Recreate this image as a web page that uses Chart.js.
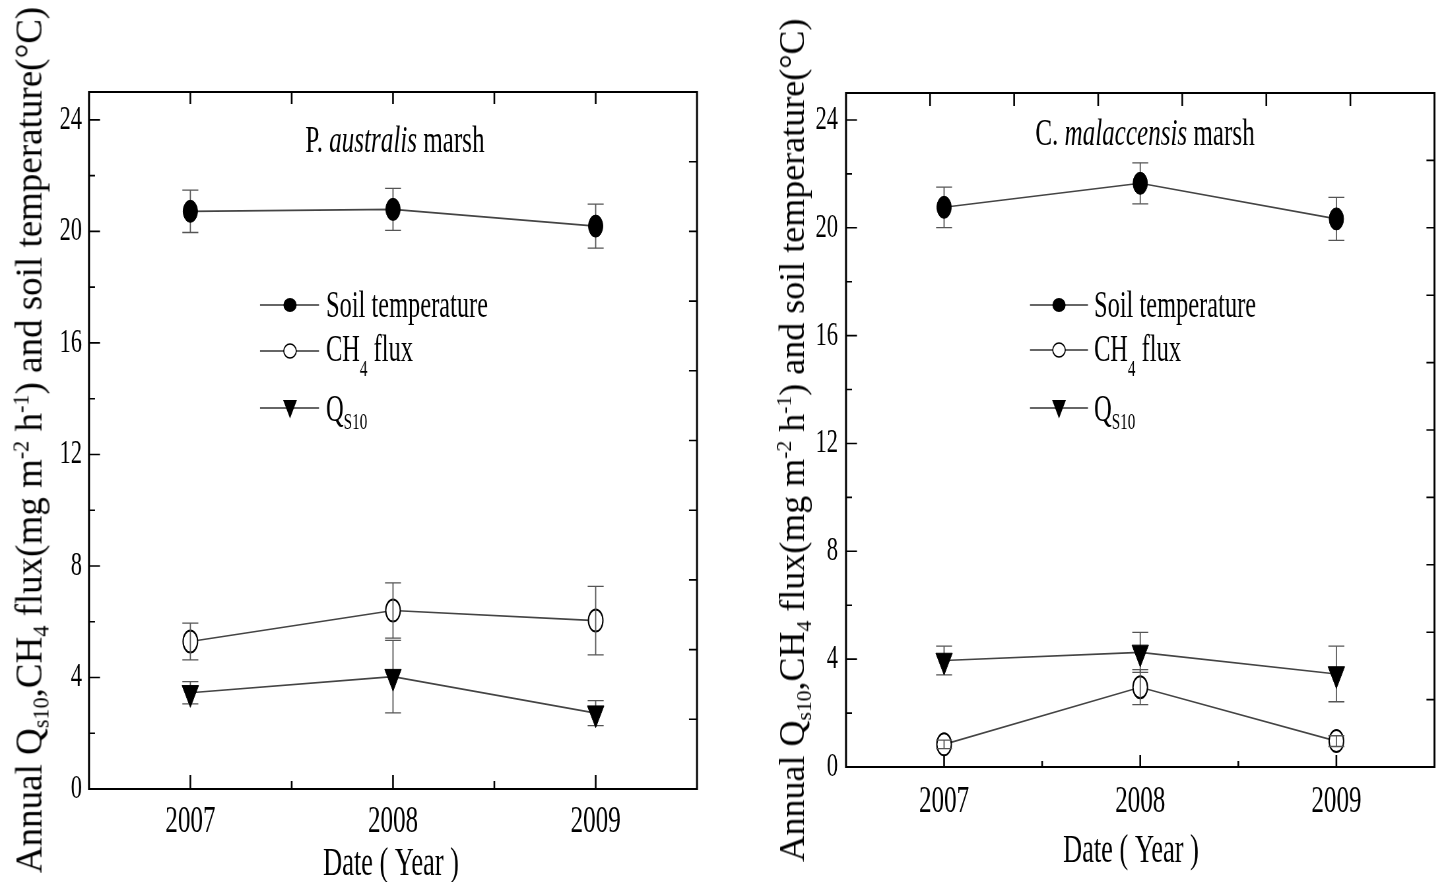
<!DOCTYPE html>
<html>
<head>
<meta charset="utf-8">
<script src="https://cdn.jsdelivr.net/npm/chart.js@4.4.0/dist/chart.umd.min.js"></script>
<style>
html,body{margin:0;padding:0;background:#fff;}
#wrap{position:relative;width:1445px;height:882px;overflow:hidden;background:#fff;}
canvas.panel{position:absolute;top:0;transform-origin:0 0;}
.ytitle{position:absolute;white-space:nowrap;font-family:'Liberation Serif','Times New Roman',serif;line-height:1;color:#000;transform:translate(-50%,-50%) rotate(-90deg);}
.ytitle sub,.ytitle sup{font-size:60%;line-height:0;position:relative;vertical-align:baseline;}
.ytitle sub{top:0.32em;}
.ytitle sup{top:-0.6em;}
</style>
</head>
<body>
<div id="wrap">
  <canvas id="c1" class="panel"></canvas>
  <canvas id="c2" class="panel"></canvas>
  <div class="ytitle" id="t1" style="left:29px;top:440px;font-size:37px;">Annual Q<sub>s10</sub>,CH<sub>4</sub> flux(mg m<sup>-2</sup> h<sup>-1</sup>) and soil temperature(°C)</div>
  <div class="ytitle" id="t2" style="left:792px;top:440px;font-size:36px;">Annual Q<sub>s10</sub>,CH<sub>4</sub> flux(mg m<sup>-2</sup> h<sup>-1</sup>) and soil temperature(°C)</div>
</div>
<script>
// ---------------- data ----------------
const years = [2007, 2008, 2009];
const xMinorTicks = [2007.5, 2008.5];
const yTickValues = [0, 2, 4, 6, 8, 10, 12, 14, 16, 18, 20, 22, 24];
const yLabelStep = 4;
const rightTickValues = [0, 2.5, 5, 7.5, 10, 12.5, 15, 17.5, 20, 22.5, 25];
const topTicksRightPanel = [1, 2, 3, 4, 5, 6];

// P. australis marsh
const pSoil = [20.72, 20.79, 20.19];
const pSoilErr = [0.76, 0.75, 0.79];
const pCh4 = [5.29, 6.40, 6.04];
const pCh4Err = [0.66, 0.99, 1.23];
const pQ10 = [3.45, 4.03, 2.72];
const pQ10Err = [0.40, 1.30, 0.45];

// C. malaccensis marsh
const cSoil = [20.76, 21.65, 20.33];
const cSoilErr = [0.75, 0.76, 0.80];
const cCh4 = [0.84, 2.96, 0.96];
const cCh4Err = [0.16, 0.65, 0.20];
const cQ10 = [3.95, 4.25, 3.45];
const cQ10Err = [0.53, 0.74, 1.03];

const legendLabels = ['Soil temperature', 'CH4 flux', 'QS10'];

// ---------------- layout ----------------
const K = 0.66;       // horizontal condensing of the original figure
const FONT = "'Liberation Serif','Times New Roman',serif";

const panels = [
  {
    canvas: 'c1', dispLeft: 0, dispWidth: 720,
    area: { left: 89, right: 697, top: 92, bottom: 789 },
    soil: pSoil, soilErr: pSoilErr, ch4: pCh4, ch4Err: pCh4Err, q10: pQ10, q10Err: pQ10Err,
    title: { parts: [['P. ', ''], ['australis', 'italic'], [' marsh', '']], cx: 395, base: 152 },
    xTitle: { cx: 391, base: 875 },
    legend: { x0: 260, x1: 319, mx: 290, tx: 326, rows: [305, 351, 408], bases: [317, 361, 421] },
    ticks: { leftMajor: 11, leftMinor: 6, right: 8, bottomMajor: 14, bottomMinor: 8, top: 12 },
    topAxis: 'x', xPad: 10, yPad: 7
  },
  {
    canvas: 'c2', dispLeft: 720, dispWidth: 725,
    area: { left: 846, right: 1436, top: 93, bottom: 767 },
    soil: cSoil, soilErr: cSoilErr, ch4: cCh4, ch4Err: cCh4Err, q10: cQ10, q10Err: cQ10Err,
    title: { parts: [['C. ', ''], ['malaccensis', 'italic'], [' marsh', '']], cx: 1145, base: 145 },
    xTitle: { cx: 1131, base: 862 },
    legend: { x0: 1030, x1: 1088, mx: 1059, tx: 1094, rows: [305, 350, 408], bases: [317, 361, 421] },
    ticks: { leftMajor: 11, leftMinor: 6, right: 8, bottomMajor: 12, bottomMinor: 6, top: 13 },
    topAxis: 'x2', xPad: 12, yPad: 8
  }
];

function drawRich(ctx, x, y, parts, align) {
  let total = 0;
  parts.forEach(p => {
    ctx.font = (p.style || '') + ' ' + p.size + 'px ' + FONT;
    p.w = ctx.measureText(p.t).width;
    total += p.w;
  });
  let cx = align === 'center' ? x - total / 2 : x;
  ctx.textAlign = 'left';
  ctx.textBaseline = 'alphabetic';
  ctx.fillStyle = '#000';
  parts.forEach(p => {
    ctx.font = (p.style || '') + ' ' + p.size + 'px ' + FONT;
    ctx.fillText(p.t, cx, y + (p.dy || 0));
    cx += p.w;
  });
}

function drawErrors(chart, dsIndex) {
  const ctx = chart.ctx;
  const ds = chart.data.datasets[dsIndex];
  const xs = chart.scales.x, ys = chart.scales.y;
  const cap = 8 / K;
  ctx.save();
  ctx.strokeStyle = '#555';
  ds.data.forEach((p, i) => {
    const e = ds.errors[i];
    const px = xs.getPixelForValue(p.x);
    const top = ys.getPixelForValue(p.y + e);
    const bot = ys.getPixelForValue(p.y - e);
    ctx.lineWidth = 1.8;
    ctx.beginPath(); ctx.moveTo(px, top); ctx.lineTo(px, bot); ctx.stroke();
    ctx.lineWidth = 1.3;
    ctx.beginPath();
    ctx.moveTo(px - cap, top); ctx.lineTo(px + cap, top);
    ctx.moveTo(px - cap, bot); ctx.lineTo(px + cap, bot);
    ctx.stroke();
  });
  ctx.restore();
}

function legendMarker(ctx, kind, x, y) {
  ctx.save();
  ctx.beginPath();
  if (kind === 'filled') {
    ctx.ellipse(x, y, 10, 7, 0, 0, Math.PI * 2);
    ctx.fillStyle = '#000'; ctx.fill();
  } else if (kind === 'open') {
    ctx.ellipse(x, y, 9.5, 7, 0, 0, Math.PI * 2);
    ctx.fillStyle = '#fff'; ctx.fill();
    ctx.lineWidth = 1.6; ctx.strokeStyle = '#000'; ctx.stroke();
  } else {
    ctx.moveTo(x - 10.5, y - 8); ctx.lineTo(x + 10.5, y - 8); ctx.lineTo(x, y + 10.5); ctx.closePath();
    ctx.fillStyle = '#000'; ctx.fill();
  }
  ctx.restore();
}

function makePanel(P) {
  const c = document.getElementById(P.canvas);
  const W = Math.round(P.dispWidth / K);
  const H = 882;
  c.width = W; c.height = H;
  c.style.width = W + 'px'; c.style.height = H + 'px';
  c.style.left = P.dispLeft + 'px';
  c.style.transform = 'scaleX(' + K + ')';
  const ix = dx => (dx - P.dispLeft) / K;   // displayed x -> internal x

  const areaLeft = ix(P.area.left), areaRight = ix(P.area.right);

  const plugin = {
    id: 'panelDecor',
    beforeDatasetsDraw(chart) { drawErrors(chart, 0); drawErrors(chart, 2); },
    afterDatasetsDraw(chart) { drawErrors(chart, 1); },
    afterDraw(chart) {
      const ctx = chart.ctx;
      const a = chart.chartArea;
      const xs = chart.scales.x, ys = chart.scales.y, xt = chart.scales[P.topAxis];
      ctx.save();
      ctx.strokeStyle = '#000';
      // frame
      ctx.lineWidth = 2;
      ctx.beginPath();
      ctx.moveTo(a.left, a.top); ctx.lineTo(a.right, a.top);
      ctx.moveTo(a.left, a.bottom); ctx.lineTo(a.right, a.bottom);
      ctx.stroke();
      ctx.lineWidth = 3;
      ctx.beginPath();
      ctx.moveTo(a.left, a.top - 1); ctx.lineTo(a.left, a.bottom + 1);
      ctx.moveTo(a.right, a.top - 1); ctx.lineTo(a.right, a.bottom + 1);
      ctx.stroke();
      // left ticks (inward)
      ctx.lineWidth = 1.6;
      ctx.beginPath();
      yTickValues.forEach(v => {
        const py = ys.getPixelForValue(v);
        const len = (v % yLabelStep === 0 ? P.ticks.leftMajor : P.ticks.leftMinor) / K;
        ctx.moveTo(a.left, py); ctx.lineTo(a.left + len, py);
      });
      // right ticks
      rightTickValues.forEach(v => {
        const py = ys.getPixelForValue(v);
        ctx.moveTo(a.right, py); ctx.lineTo(a.right - P.ticks.right / K, py);
      });
      ctx.stroke();
      // bottom ticks
      ctx.lineWidth = 2.6;
      ctx.beginPath();
      years.forEach(v => {
        const px = xs.getPixelForValue(v);
        ctx.moveTo(px, a.bottom); ctx.lineTo(px, a.bottom - P.ticks.bottomMajor);
      });
      xMinorTicks.forEach(v => {
        const px = xs.getPixelForValue(v);
        ctx.moveTo(px, a.bottom); ctx.lineTo(px, a.bottom - P.ticks.bottomMinor);
      });
      // top ticks
      const topVals = P.topAxis === 'x' ? years.concat(xMinorTicks) : topTicksRightPanel;
      topVals.forEach(v => {
        const px = xt.getPixelForValue(v);
        ctx.moveTo(px, a.top); ctx.lineTo(px, a.top + P.ticks.top);
      });
      ctx.stroke();
      ctx.restore();

      // panel title
      drawRich(ctx, ix(P.title.cx), P.title.base,
        P.title.parts.map(p => ({ t: p[0], size: 38, style: p[1] })), 'center');
      // x axis title
      drawRich(ctx, ix(P.xTitle.cx), P.xTitle.base, [{ t: 'Date ( Year )', size: 40 }], 'center');

      // legend
      const L = P.legend;
      const kinds = ['filled', 'open', 'tri'];
      const labelParts = [
        [{ t: legendLabels[0], size: 37 }],
        [{ t: 'CH', size: 37 }, { t: '4', size: 23, dy: 15 }, { t: ' flux', size: 37 }],
        [{ t: 'Q', size: 37 }, { t: 'S10', size: 23, dy: 8 }]
      ];
      kinds.forEach((k, i) => {
        const y = L.rows[i];
        ctx.save();
        ctx.strokeStyle = '#333'; ctx.lineWidth = 1.3;
        ctx.beginPath(); ctx.moveTo(ix(L.x0), y); ctx.lineTo(ix(L.x1), y); ctx.stroke();
        ctx.restore();
        legendMarker(ctx, k, ix(L.mx), y);
        drawRich(ctx, ix(L.tx), L.bases[i], labelParts[i], 'left');
      });
    }
  };

  const pts = arr => years.map((x, i) => ({ x: x, y: arr[i] }));

  return new Chart(c.getContext('2d'), {
    type: 'line',
    data: {
      datasets: [
        {
          label: legendLabels[0], data: pts(P.soil), errors: P.soilErr,
          borderColor: '#444', borderWidth: 1.6, tension: 0,
          pointStyle: 'circle', pointRadius: 11, pointBackgroundColor: '#000',
          pointBorderColor: '#000', pointBorderWidth: 1
        },
        {
          label: legendLabels[1], data: pts(P.ch4), errors: P.ch4Err,
          borderColor: '#444', borderWidth: 1.6, tension: 0,
          pointStyle: 'circle', pointRadius: 11, pointBackgroundColor: 'rgba(255,255,255,1)',
          pointBorderColor: '#000', pointBorderWidth: 2
        },
        {
          label: legendLabels[2], data: pts(P.q10), errors: P.q10Err,
          borderColor: '#444', borderWidth: 1.6, tension: 0,
          pointStyle: 'triangle', pointRotation: 180, pointRadius: 14.5,
          pointBackgroundColor: '#000', pointBorderColor: '#000', pointBorderWidth: 1
        }
      ]
    },
    options: {
      responsive: false, animation: false, devicePixelRatio: 1,
      layout: { padding: { top: P.area.top, right: W - areaRight, left: 0, bottom: 0 } },
      plugins: { legend: { display: false }, tooltip: { enabled: false }, title: { display: false } },
      scales: {
        x: {
          type: 'linear', position: 'bottom', min: 2006.5, max: 2009.5,
          grid: { display: false, drawTicks: false }, border: { display: false },
          afterBuildTicks: s => { s.ticks = years.map(v => ({ value: v })); },
          afterFit: s => { s.height = H - P.area.bottom; },
          ticks: {
            color: '#000', font: { family: FONT, size: 38 }, padding: P.xPad,
            maxRotation: 0, autoSkip: false, callback: v => String(v)
          }
        },
        x2: { type: 'linear', axis: 'x', position: 'top', min: 0, max: 7, display: false },
        y: {
          type: 'linear', position: 'left', min: 0, max: 25,
          grid: { display: false, drawTicks: false }, border: { display: false },
          afterBuildTicks: s => { s.ticks = yTickValues.map(v => ({ value: v })); },
          afterFit: s => { s.width = areaLeft; },
          ticks: {
            color: '#000', font: { family: FONT, size: 34 }, padding: P.yPad / K,
            autoSkip: false, callback: v => (v % yLabelStep === 0 ? String(v) : '')
          }
        }
      }
    },
    plugins: [plugin]
  });
}

panels.forEach(makePanel);
</script>
</body>
</html>
